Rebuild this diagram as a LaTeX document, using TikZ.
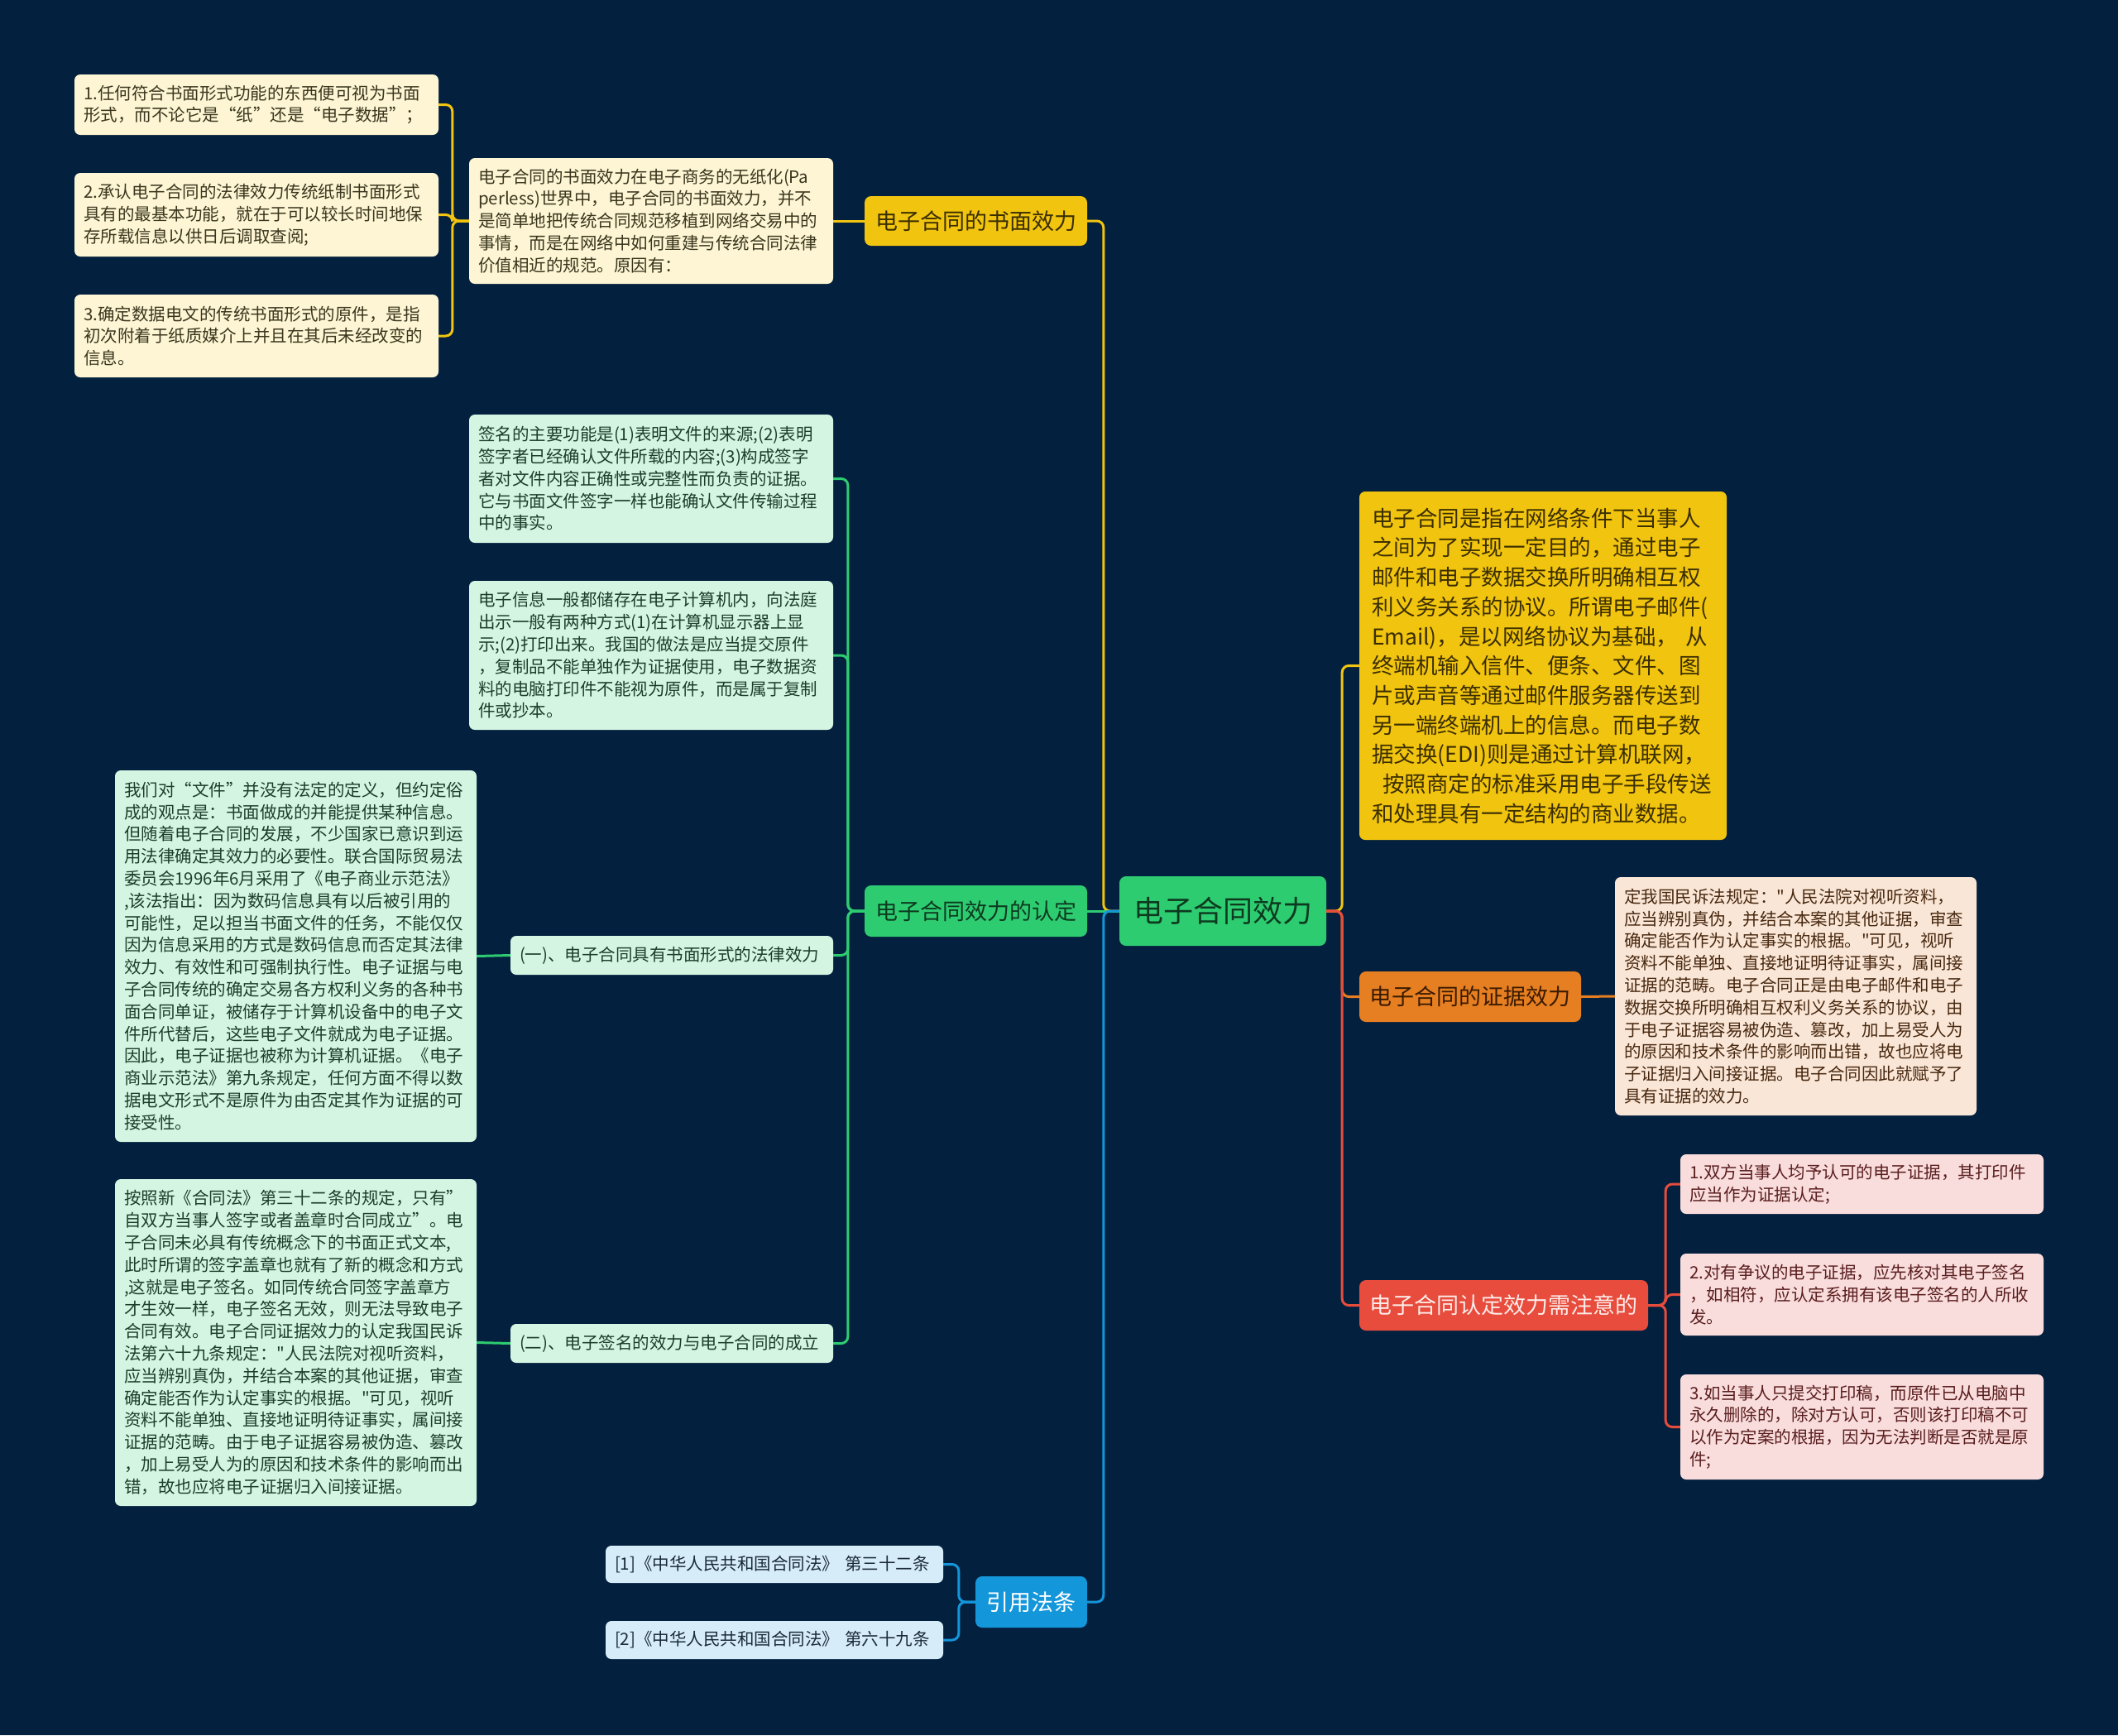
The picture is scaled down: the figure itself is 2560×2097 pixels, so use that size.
\documentclass[tikz,border=0pt]{standalone}
\usepackage{fontspec}
\setmainfont{Noto Sans CJK SC}[Ligatures=TeXOff]
\definecolor{bg}{HTML}{03203E}
\definecolor{creamc}{HTML}{FDF5D3}
\definecolor{creamtxt}{HTML}{3A361E}
\definecolor{mintc}{HTML}{D5F5E3}
\definecolor{minttxt}{HTML}{1B3E2A}
\definecolor{skyc}{HTML}{D6ECF8}
\definecolor{skytxt}{HTML}{1A2A3A}
\definecolor{peachc}{HTML}{FAE6D6}
\definecolor{peachtxt}{HTML}{472810}
\definecolor{pinkc}{HTML}{F9DCDC}
\definecolor{pinktxt}{HTML}{5A1E1E}
\definecolor{cY}{HTML}{F1C40F}
\definecolor{cYtxt}{HTML}{3B2E00}
\definecolor{cG}{HTML}{2ECC71}
\definecolor{cGtxt}{HTML}{0D3A1F}
\definecolor{cB}{HTML}{1496DA}
\definecolor{cO}{HTML}{E67E22}
\definecolor{cOtxt}{HTML}{3A1B00}
\definecolor{cR}{HTML}{E74C3C}
\definecolor{cRtxt}{HTML}{FDECEA}
\tikzset{
  txtbox/.style={rounded corners=7pt, inner xsep=11pt, inner ysep=0pt, align=left, font=\fontsize{20.5}{26.8}\selectfont},
  creambox/.style={txtbox, fill=creamc, text=creamtxt},
  mintbox/.style={txtbox, fill=mintc, text=minttxt},
  skybox/.style={txtbox, fill=skyc, text=skytxt},
  peachbox/.style={txtbox, fill=peachc, text=peachtxt},
  pinkbox/.style={txtbox, fill=pinkc, text=pinktxt},
  mainbox/.style={rounded corners=8pt, inner sep=0pt, align=center, font=\fontsize{27}{32}\selectfont},
  conn/.style={line width=3pt, rounded corners=8pt},
}
\begin{document}
\begin{tikzpicture}[x=1pt,y=-1pt]
\fill[bg] (0,0) rectangle (2560,2097);
\useasboundingbox (0,0) rectangle (2560,2097);

% root
\node[mainbox, fill=cG, text=cGtxt, minimum width=250pt, minimum height=84pt, font=\fontsize{36}{40}\selectfont] (root) at (1478,1101) {电子合同效力};

% left main branches
\node[mainbox, fill=cY, text=cYtxt, minimum width=269pt, minimum height=60pt] (b1) at (1179.5,267) {电子合同的书面效力};
\node[mainbox, fill=cG, text=cGtxt, minimum width=269pt, minimum height=62pt] (b2) at (1179.5,1101) {电子合同效力的认定};
\node[mainbox, fill=cB, text=white, minimum width=135pt, minimum height=62pt] (b4) at (1246.5,1936) {引用法条};

% right main branches
\node[mainbox, fill=cO, text=cOtxt, minimum width=268pt, minimum height=61pt] (b5) at (1777,1204.5) {电子合同的证据效力};
\node[mainbox, fill=cR, text=cRtxt, minimum width=349pt, minimum height=61pt] (b6) at (1817.5,1577.5) {电子合同认定效力需注意的};

% yellow big box
\node[rounded corners=7pt, inner xsep=15pt, inner ysep=0pt, align=left, fill=cY, text=cYtxt, font=\fontsize{26.5}{35.7}\selectfont, text width=414pt, minimum height=421pt] (ybox) at (1865,804.5) {电子合同是指在网络条件下当事人\\之间为了实现一定目的，通过电子\\邮件和电子数据交换所明确相互权\\利义务关系的协议。所谓电子邮件(\\Email)，是以网络协议为基础， 从\\终端机输入信件、便条、文件、图\\片或声音等通过邮件服务器传送到\\另一端终端机上的信息。而电子数\\据交换(EDI)则是通过计算机联网，\\\hspace*{0.5em}按照商定的标准采用电子手段传送\\和处理具有一定结构的商业数据。};

% book-form branch
\node[creambox, text width=418pt, minimum height=152pt] (reason) at (787,267) {电子合同的书面效力在电子商务的无纸化(Pa\\perless)世界中，电子合同的书面效力，并不\\是简单地把传统合同规范移植到网络交易中的\\事情，而是在网络中如何重建与传统合同法律\\价值相近的规范。原因有：};
\node[creambox, text width=418pt, minimum height=73pt] (it1) at (310,126.5) {1.任何符合书面形式功能的东西便可视为书面\\形式，而不论它是“纸”还是“电子数据”；};
\node[creambox, text width=418pt, minimum height=101pt] (it2) at (310,259.5) {2.承认电子合同的法律效力传统纸制书面形式\\具有的最基本功能，就在于可以较长时间地保\\存所载信息以供日后调取查阅;};
\node[creambox, text width=418pt, minimum height=100pt] (it3) at (310,406) {3.确定数据电文的传统书面形式的原件，是指\\初次附着于纸质媒介上并且在其后未经改变的\\信息。};

% recognition branch
\node[mintbox, text width=418pt, minimum height=155pt] (sig) at (787,578.5) {签名的主要功能是(1)表明文件的来源;(2)表明\\签字者已经确认文件所载的内容;(3)构成签字\\者对文件内容正确性或完整性而负责的证据。\\它与书面文件签字一样也能确认文件传输过程\\中的事实。};
\node[mintbox, text width=418pt, minimum height=180pt] (info) at (787,792) {电子信息一般都储存在电子计算机内，向法庭\\出示一般有两种方式(1)在计算机显示器上显\\示;(2)打印出来。我国的做法是应当提交原件\\，复制品不能单独作为证据使用，电子数据资\\料的电脑打印件不能视为原件，而是属于复制\\件或抄本。};
\node[mintbox, text width=368pt, minimum height=47pt] (s1) at (812,1154.5) {(一)、电子合同具有书面形式的法律效力};
\node[mintbox, text width=368pt, minimum height=47pt] (s2) at (812,1623.5) {(二)、电子签名的效力与电子合同的成立};
\node[mintbox, text width=415pt, minimum height=449pt] (big1) at (357.5,1155.5) {我们对“文件”并没有法定的定义，但约定俗\\成的观点是：书面做成的并能提供某种信息。\\但随着电子合同的发展，不少国家已意识到运\\用法律确定其效力的必要性。联合国际贸易法\\委员会1996年6月采用了《电子商业示范法》\\,该法指出：因为数码信息具有以后被引用的\\可能性，足以担当书面文件的任务，不能仅仅\\因为信息采用的方式是数码信息而否定其法律\\效力、有效性和可强制执行性。电子证据与电\\子合同传统的确定交易各方权利义务的各种书\\面合同单证，被储存于计算机设备中的电子文\\件所代替后，这些电子文件就成为电子证据。\\因此，电子证据也被称为计算机证据。《电子\\商业示范法》第九条规定，任何方面不得以数\\据电文形式不是原件为由否定其作为证据的可\\接受性。};
\node[mintbox, text width=415pt, minimum height=395pt] (big2) at (357.5,1622.5) {按照新《合同法》第三十二条的规定，只有”\\自双方当事人签字或者盖章时合同成立”。电\\子合同未必具有传统概念下的书面正式文本,\\此时所谓的签字盖章也就有了新的概念和方式\\,这就是电子签名。如同传统合同签字盖章方\\才生效一样，电子签名无效，则无法导致电子\\合同有效。电子合同证据效力的认定我国民诉\\法第六十九条规定："人民法院对视听资料，\\应当辨别真伪，并结合本案的其他证据，审查\\确定能否作为认定事实的根据。"可见，视听\\资料不能单独、直接地证明待证事实，属间接\\证据的范畴。由于电子证据容易被伪造、篡改\\，加上易受人为的原因和技术条件的影响而出\\错，故也应将电子证据归入间接证据。};

% references
\node[skybox, text width=386pt, minimum height=45pt] (r1) at (936,1890.5) {[1]《中华人民共和国合同法》 第三十二条};
\node[skybox, text width=386pt, minimum height=46pt] (r2) at (936,1982) {[2]《中华人民共和国合同法》 第六十九条};

% evidence branch
\node[peachbox, text width=415pt, minimum height=288pt] (peach) at (2170.5,1204) {定我国民诉法规定："人民法院对视听资料，\\应当辨别真伪，并结合本案的其他证据，审查\\确定能否作为认定事实的根据。"可见，视听\\资料不能单独、直接地证明待证事实，属间接\\证据的范畴。电子合同正是由电子邮件和电子\\数据交换所明确相互权利义务关系的协议，由\\于电子证据容易被伪造、篡改，加上易受人为\\的原因和技术条件的影响而出错，故也应将电\\子证据归入间接证据。电子合同因此就赋予了\\具有证据的效力。};

% attention branch
\node[pinkbox, text width=417pt, minimum height=72pt] (p1) at (2250.5,1431) {1.双方当事人均予认可的电子证据，其打印件\\应当作为证据认定;};
\node[pinkbox, text width=417pt, minimum height=99pt] (p2) at (2250.5,1564.5) {2.对有争议的电子证据，应先核对其电子签名\\，如相符，应认定系拥有该电子签名的人所收\\发。};
\node[pinkbox, text width=417pt, minimum height=127pt] (p3) at (2250.5,1724.5) {3.如当事人只提交打印稿，而原件已从电脑中\\永久删除的，除对方认可，否则该打印稿不可\\以作为定案的根据，因为无法判断是否就是原\\件;};

% connectors from root
\draw[conn, cY] (root.west) -- ++(-19,0) |- (b1.east);
\draw[conn, cG] (root.west) -- (b2.east);
\draw[conn, cB] (root.west) -- ++(-19,0) |- (b4.east);
\draw[conn, cY] (root.east) -- ++(19,0) |- (ybox.west);
\draw[conn, cO] (root.east) -- ++(19,0) |- (b5.west);
\draw[conn, cR] (root.east) -- ++(19,0) |- (b6.west);

% book-form
\draw[conn, cY] (b1.west) -- (reason.east);
\draw[conn, cY] (reason.west) -- ++(-20,0) |- (it1.east);
\draw[conn, cY] (reason.west) -- ++(-20,0) |- (it2.east);
\draw[conn, cY] (reason.west) -- ++(-20,0) |- (it3.east);

% recognition
\draw[conn, cG] (b2.west) -- ++(-20,0) |- (sig.east);
\draw[conn, cG] (b2.west) -- ++(-20,0) |- (info.east);
\draw[conn, cG] (b2.west) -- ++(-20,0) |- (s1.east);
\draw[conn, cG] (b2.west) -- ++(-20,0) |- (s2.east);
\draw[conn, cG] (s1.west) -- (big1.east);
\draw[conn, cG] (s2.west) -- (big2.east);

% references
\draw[conn, cB] (b4.west) -- ++(-20,0) |- (r1.east);
\draw[conn, cB] (b4.west) -- ++(-20,0) |- (r2.east);

% evidence
\draw[conn, cO] (b5.east) -- (peach.west);

% attention
\draw[conn, cR] (b6.east) -- ++(21,0) |- (p1.west);
\draw[conn, cR] (b6.east) -- ++(21,0) |- (p2.west);
\draw[conn, cR] (b6.east) -- ++(21,0) |- (p3.west);
\end{tikzpicture}
\end{document}
